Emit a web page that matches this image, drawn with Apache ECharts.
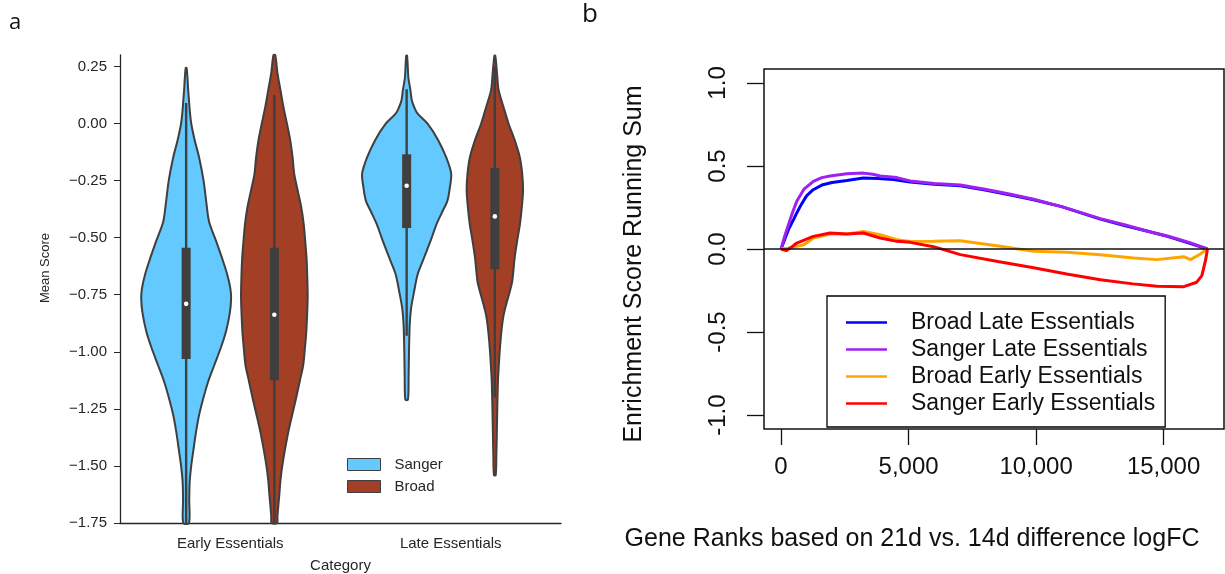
<!DOCTYPE html>
<html>
<head>
<meta charset="utf-8">
<script src="https://cdn.jsdelivr.net/npm/echarts@6/dist/echarts.min.js"></script>
<style>
  html, body { margin: 0; padding: 0; background: #fff; }
  #chart { width: 1225px; height: 574px; }
</style>
</head>
<body>
<div id="chart"></div>
<script>
// ---- panel a : violins ----
const categories = ['Early Essentials', 'Late Essentials'];
const leftTicks = [-1.75, -1.5, -1.25, -1.0, -0.75, -0.5, -0.25, 0, 0.25];

// [score, half width as a fraction of the category band]
const sangerEarlyViolin = [[0.243,0.002],[0.20,0.006],[0.15,0.009],[0.10,0.013],[0.05,0.017],[0.0,0.023],[-0.07,0.038],[-0.15,0.059],[-0.25,0.079],[-0.35,0.092],[-0.43,0.104],[-0.515,0.136],[-0.59,0.163],[-0.66,0.186],[-0.72,0.2],[-0.765,0.204],[-0.83,0.198],[-0.91,0.181],[-0.98,0.158],[-1.06,0.127],[-1.13,0.1],[-1.21,0.076],[-1.28,0.058],[-1.35,0.045],[-1.43,0.033],[-1.50,0.023],[-1.57,0.016],[-1.65,0.014],[-1.75,0.013],[-1.85,0.008]];
const broadEarlyViolin = [[0.30,0.004],[0.222,0.014],[0.15,0.027],[0.074,0.041],[0.0,0.057],[-0.073,0.072],[-0.15,0.083],[-0.22,0.090],[-0.29,0.105],[-0.367,0.122],[-0.44,0.133],[-0.515,0.140],[-0.59,0.146],[-0.66,0.149],[-0.765,0.151],[-0.91,0.145],[-0.98,0.139],[-1.058,0.131],[-1.13,0.115],[-1.206,0.098],[-1.28,0.080],[-1.353,0.063],[-1.43,0.048],[-1.50,0.036],[-1.56,0.028],[-1.62,0.023],[-1.72,0.014],[-1.80,0.01]];
const sangerLateViolin = [[0.297,0.002],[0.20,0.008],[0.147,0.017],[0.103,0.023],[0.07,0.035],[0.044,0.049],[0.0,0.094],[-0.073,0.143],[-0.15,0.18],[-0.22,0.202],[-0.28,0.196],[-0.338,0.185],[-0.39,0.16],[-0.44,0.136],[-0.51,0.11],[-0.588,0.079],[-0.66,0.05],[-0.735,0.034],[-0.81,0.02],[-0.88,0.014],[-0.985,0.011],[-1.10,0.009],[-1.21,0.006]];
const broadLateViolin = [[0.297,0.002],[0.22,0.01],[0.147,0.017],[0.07,0.04],[0.0,0.062],[-0.073,0.09],[-0.147,0.113],[-0.22,0.124],[-0.294,0.128],[-0.37,0.122],[-0.44,0.114],[-0.51,0.102],[-0.588,0.09],[-0.69,0.079],[-0.735,0.068],[-0.78,0.055],[-0.838,0.04],[-0.9,0.031],[-0.985,0.023],[-1.06,0.018],[-1.132,0.014],[-1.25,0.011],[-1.353,0.009],[-1.45,0.007],[-1.54,0.004]];

// [whisker low, q1, median, q3, whisker high]
const sangerEarlyBox = [-1.85, -1.032, -0.79, -0.544, 0.09];
const broadEarlyBox = [-1.85, -1.125, -0.838, -0.544, 0.125];
const sangerLateBox = [-0.93, -0.458, -0.273, -0.135, 0.15];
const broadLateBox = [-1.2, -0.639, -0.407, -0.195, 0.25];

// ---- panel b : running sums ----
const rankTicks = [0, 5000, 10000, 15000];
const esTicks = [-1, -0.5, 0, 0.5, 1];
const broadLate = [[0,0],[150,0.06],[300,0.12],[500,0.18],[616,0.217],[800,0.27],[1000,0.32],[1260,0.357],[1600,0.385],[2000,0.40],[2580,0.413],[3220,0.428],[3800,0.425],[4400,0.418],[5060,0.404],[6000,0.39],[7030,0.381],[8000,0.355],[9000,0.325],[9900,0.297],[11000,0.255],[12520,0.18],[13500,0.14],[14300,0.11],[15150,0.076],[16000,0.035],[16720,0]];
const sangerLate = [[0,0],[150,0.08],[300,0.15],[450,0.22],[616,0.287],[900,0.36],[1268,0.407],[1600,0.43],[1923,0.44],[2577,0.453],[3232,0.457],[3600,0.45],[3886,0.44],[4540,0.43],[5060,0.41],[6000,0.395],[7030,0.385],[8000,0.36],[9000,0.33],[9900,0.30],[11000,0.255],[12520,0.183],[13500,0.145],[14300,0.11],[15150,0.078],[16000,0.04],[16720,0]];
const broadEarly = [[0,0],[300,0.005],[616,0.016],[900,0.026],[1268,0.066],[1923,0.09],[2577,0.09],[3232,0.106],[3886,0.086],[4540,0.056],[5063,0.045],[5980,0.046],[7026,0.05],[8596,0.016],[9904,-0.014],[11213,-0.02],[12521,-0.034],[13829,-0.054],[14745,-0.064],[15791,-0.046],[16053,-0.064],[16446,-0.03],[16708,0]];
const sangerEarly = [[0,0],[200,-0.01],[400,0.01],[616,0.036],[1000,0.06],[1268,0.076],[1923,0.096],[2577,0.09],[3232,0.096],[3886,0.066],[4540,0.046],[5063,0.04],[5980,0.014],[7030,-0.034],[8500,-0.075],[9904,-0.113],[11200,-0.15],[12521,-0.185],[13800,-0.21],[14745,-0.225],[15791,-0.227],[16300,-0.2],[16500,-0.16],[16650,-0.064],[16720,0]];

const Y_MIN = -1.75, Y_MAX = 0.30;
const INK = '#3f3f3f';
const TXT = '#262626';
const FONT = 'Liberation Sans, Arial, sans-serif';

function clipProfile(profile, lo, hi) {
  const out = [];
  for (let i = 0; i < profile.length; i++) {
    const p = profile[i];
    if (p[0] <= hi && p[0] >= lo) out.push(p);
    const q = profile[i + 1];
    if (!q) break;
    [hi, lo].forEach(function (b) {
      if ((p[0] - b) * (q[0] - b) < 0) {
        const t = (b - p[0]) / (q[0] - p[0]);
        out.push([b, p[1] + t * (q[1] - p[1])]);
      }
    });
  }
  return out;
}

function violinRender(profiles, boxes, offset) {
  return function (params, api) {
    const i = params.dataIndex;
    const band = api.size([1, 0])[0];
    const cx = api.coord([api.value(0), 0])[0] + offset * band;
    const prof = clipProfile(profiles[i], Y_MIN, Y_MAX);
    const right = prof.map(p => [cx + p[1] * band, api.coord([0, p[0]])[1]]);
    const left = prof.slice().reverse().map(p => [cx - p[1] * band, api.coord([0, p[0]])[1]]);
    const b = boxes[i];
    const yOf = v => api.coord([0, Math.max(Y_MIN, Math.min(Y_MAX, v))])[1];
    const bw = 0.041 * band;
    return {
      type: 'group',
      children: [
        { type: 'polygon', shape: { points: right.concat(left), smooth: 0.3 },
          style: { fill: api.visual('color'), stroke: INK, lineWidth: 2 } },
        { type: 'line', shape: { x1: cx, y1: yOf(b[0]), x2: cx, y2: yOf(b[4]) },
          style: { stroke: INK, lineWidth: 2.4 } },
        { type: 'rect', shape: { x: cx - bw / 2, y: yOf(b[3]), width: bw, height: yOf(b[1]) - yOf(b[3]) },
          style: { fill: INK } },
        { type: 'circle', shape: { cx: cx, cy: yOf(b[2]), r: 2.3 }, style: { fill: '#fff' } }
      ]
    };
  };
}

const chart = echarts.init(document.getElementById('chart'));

chart.setOption({
  animation: false,
  textStyle: { fontFamily: FONT },
  graphic: [
    { type: 'text', left: 9, top: 12, style: { text: 'a', font: '22px Open Sans, sans-serif', fill: '#111' } },
    { type: 'text', left: 582, top: 2, style: { text: 'b', font: '26px Open Sans, sans-serif', fill: '#111' } },
    { type: 'text', x: 45, y: 268, rotation: Math.PI / 2,
      style: { text: 'Mean Score', font: '13px ' + FONT, fill: TXT, align: 'center', verticalAlign: 'middle' } },
    { type: 'text', x: 634, y: 264, rotation: Math.PI / 2,
      style: { text: 'Enrichment Score Running Sum', font: '25px ' + FONT, fill: '#111', align: 'center', verticalAlign: 'middle' } },
    { type: 'text', x: 912, y: 539,
      style: { text: 'Gene Ranks based on 21d vs. 14d difference logFC', font: '25px ' + FONT, fill: '#111', align: 'center', verticalAlign: 'middle' } }
  ],
  legend: [
    {
      data: ['Sanger', 'Broad'], orient: 'vertical', left: 342, top: 452,
      itemWidth: 33, itemHeight: 12, itemGap: 7, icon: 'rect',
      itemStyle: { borderColor: INK, borderWidth: 1 },
      textStyle: { fontSize: 15, color: TXT, padding: [0, 0, 0, 9] }
    },
    {
      data: ['Broad Late Essentials', 'Sanger Late Essentials', 'Broad Early Essentials', 'Sanger Early Essentials'],
      orient: 'vertical', left: 827, top: 296, width: 337, height: 132,
      backgroundColor: '#fff', borderColor: '#000', borderWidth: 1.3,
      padding: [13, 10, 10, 19], itemGap: 0, itemWidth: 41, itemHeight: 2.5, icon: 'rect',
      textStyle: { fontSize: 23, color: '#111', lineHeight: 27, padding: [0, 0, 0, 19] }
    }
  ],
  grid: [
    { left: 120, top: 55, width: 441, height: 468, outerBoundsMode: 'none' },
    { left: 764, top: 69, width: 460, height: 360, outerBoundsMode: 'none',
      show: true, borderColor: '#111', borderWidth: 1.5 }
  ],
  xAxis: [
    {
      type: 'category', gridIndex: 0, data: categories, boundaryGap: true,
      axisLine: { onZero: false, lineStyle: { color: TXT, width: 1.3 } },
      axisTick: { alignWithLabel: true, length: 5, lineStyle: { color: TXT } },
      axisLabel: { fontSize: 15, color: TXT, margin: 13 },
      name: 'Category', nameLocation: 'middle', nameGap: 35,
      nameTextStyle: { fontSize: 15, color: TXT }
    },
    {
      type: 'value', gridIndex: 1, min: -668, max: 17368,
      axisLine: { show: false, onZero: false },
      axisTick: { show: true, customValues: rankTicks, length: 16, lineStyle: { color: '#111', width: 1.3 } },
      axisLabel: { customValues: rankTicks, fontSize: 24, color: '#111', margin: 26,
        formatter: v => v.toLocaleString('en-US') },
      splitLine: { show: false }
    }
  ],
  yAxis: [
    {
      type: 'value', gridIndex: 0, min: Y_MIN, max: Y_MAX,
      axisLine: { show: true, onZero: false, lineStyle: { color: TXT, width: 1.3 } },
      axisTick: { show: true, customValues: leftTicks, length: 6, lineStyle: { color: TXT } },
      axisLabel: { customValues: leftTicks, fontSize: 15, color: TXT, margin: 13,
        formatter: v => v.toFixed(2).replace('-', '\u2212') },
      splitLine: { show: false }
    },
    {
      type: 'value', gridIndex: 1, min: -1.084, max: 1.084,
      axisLine: { show: false, onZero: false },
      axisTick: { show: true, customValues: esTicks, length: 17, lineStyle: { color: '#111', width: 1.3 } },
      axisLabel: { customValues: esTicks, fontSize: 24, color: '#111', margin: 34, rotate: 90,
        formatter: v => v.toFixed(1) },
      splitLine: { show: false }
    }
  ],
  series: [
    {
      name: 'Sanger', type: 'custom', xAxisIndex: 0, yAxisIndex: 0,
      itemStyle: { color: '#63c9fe' },
      renderItem: violinRender([sangerEarlyViolin, sangerLateViolin], [sangerEarlyBox, sangerLateBox], -0.2),
      encode: { x: 0, y: 1 },
      data: [[0, sangerEarlyBox[2]], [1, sangerLateBox[2]]]
    },
    {
      name: 'Broad', type: 'custom', xAxisIndex: 0, yAxisIndex: 0,
      itemStyle: { color: '#a33f25' },
      renderItem: violinRender([broadEarlyViolin, broadLateViolin], [broadEarlyBox, broadLateBox], 0.2),
      encode: { x: 0, y: 1 },
      data: [[0, broadEarlyBox[2]], [1, broadLateBox[2]]]
    },
    {
      name: 'Broad Late Essentials', type: 'line', xAxisIndex: 1, yAxisIndex: 1,
      data: broadLate, symbol: 'none', color: '#0000ff', lineStyle: { width: 3 }
    },
    {
      name: 'Sanger Late Essentials', type: 'line', xAxisIndex: 1, yAxisIndex: 1,
      data: sangerLate, symbol: 'none', color: '#a020f0', lineStyle: { width: 3 }
    },
    {
      name: 'Broad Early Essentials', type: 'line', xAxisIndex: 1, yAxisIndex: 1,
      data: broadEarly, symbol: 'none', color: '#ffa500', lineStyle: { width: 3 }
    },
    {
      name: 'Sanger Early Essentials', type: 'line', xAxisIndex: 1, yAxisIndex: 1,
      data: sangerEarly, symbol: 'none', color: '#ff0000', lineStyle: { width: 3 },
      markLine: {
        silent: true, symbol: 'none', label: { show: false },
        lineStyle: { color: '#111', width: 1.5, type: 'solid' },
        data: [{ yAxis: 0 }]
      }
    }
  ]
});
</script>
</body>
</html>
